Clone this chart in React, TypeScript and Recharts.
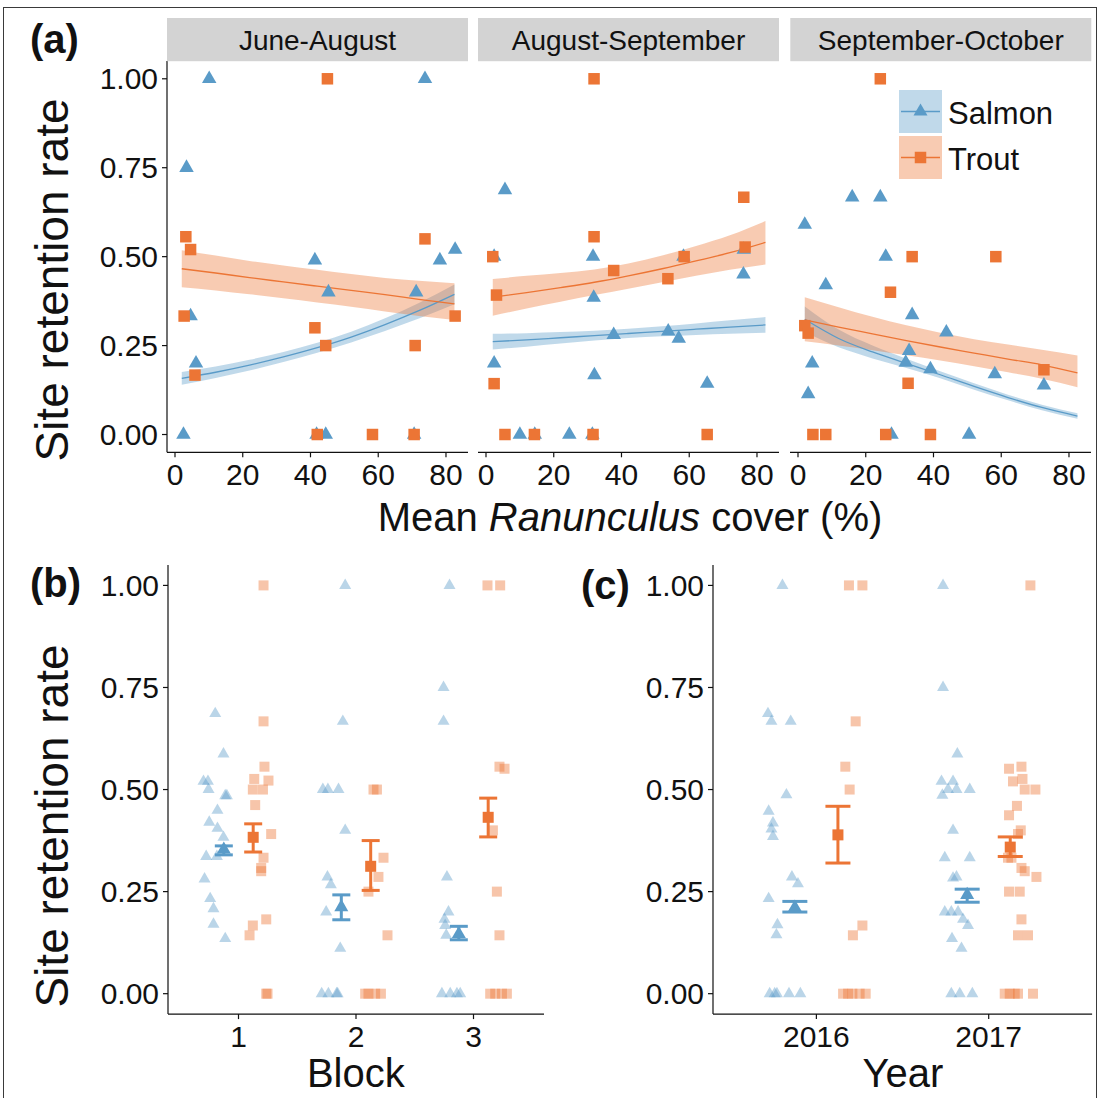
import React from 'react';
import { ComposedChart, Scatter, Line, Area, XAxis, YAxis, ErrorBar } from 'recharts';

const FONT = '"Liberation Sans", Arial, Helvetica, sans-serif';
const BLUE = '#5A9BC8';
const ORANGE = '#EC7535';
const INK = '#111111';

// ---- axis ticks ----
const seasons = ['June-August', 'August-September', 'September-October'];
const coverTicks = [0, 20, 40, 60, 80];
const coverTickLabels = ['0', '20', '40', '60', '80'];
const rateTicks = [0, 0.25, 0.5, 0.75, 1];
const rateTickLabels = ['0.00', '0.25', '0.50', '0.75', '1.00'];
const blockTicks = [1, 2, 3];
const blockTickLabels = ['1', '2', '3'];
const yearTicks = [2016, 2017];
const yearTickLabels = ['2016', '2017'];

// ---- (a) site retention vs mean Ranunculus cover: [cover %, rate] ----
const salmonJunAug: [number, number][] = [
  [10.1, 1], [73.8, 1], [3.4, 0.75], [41.3, 0.49], [45.3, 0.4], [71.2, 0.4], [78.2, 0.49],
  [82.7, 0.52], [4.6, 0.333], [6.2, 0.2], [2.5, 0], [41.8, 0], [44.5, 0], [70.6, 0],
];
const troutJunAug: [number, number][] = [
  [45, 1], [3.2, 0.556], [4.6, 0.52], [73.8, 0.55], [2.7, 0.333], [82.7, 0.333], [41.3, 0.3],
  [44.5, 0.25], [70.9, 0.25], [5.9, 0.167], [42, 0], [58.3, 0], [70.6, 0],
];
const salmonAugSep: [number, number][] = [
  [5.6, 0.6875], [2.4, 0.5], [31.6, 0.5], [76.1, 0.52], [58.3, 0.5], [76, 0.45], [31.8, 0.385],
  [37.7, 0.28], [53.8, 0.29], [56.9, 0.27], [2.4, 0.2], [32, 0.167], [65.3, 0.143],
  [10, 0], [14.4, 0], [24.6, 0], [31.4, 0],
];
const troutAugSep: [number, number][] = [
  [31.9, 1], [76.1, 0.667], [31.9, 0.556], [2, 0.5], [76.5, 0.527], [58.5, 0.5], [37.7, 0.461],
  [53.7, 0.438], [3.1, 0.392], [2.4, 0.143], [5.6, 0], [14.3, 0], [31.6, 0], [65.3, 0],
];
const salmonSepOct: [number, number][] = [
  [16, 0.667], [24.3, 0.667], [2, 0.59], [25.9, 0.5], [8.2, 0.42], [33.7, 0.336], [43.8, 0.287],
  [32.8, 0.235], [31.8, 0.202], [39.1, 0.184], [4.2, 0.2], [58.1, 0.17], [72.6, 0.138],
  [3, 0.114], [27.6, 0], [50.5, 0],
];
const troutSepOct: [number, number][] = [
  [24.3, 1], [33.7, 0.5], [58.4, 0.5], [27.3, 0.4], [2, 0.306], [3, 0.285], [32.5, 0.144],
  [72.6, 0.182], [4.4, 0], [8.2, 0], [25.9, 0], [39.1, 0],
];

// fitted retention and confidence band along cover
const fitCover = [2, 12, 22, 32, 42, 52, 62, 72, 82.5];

const salmonFitJunAug = [0.158, 0.175, 0.195, 0.218, 0.244, 0.274, 0.309, 0.348, 0.394];
const salmonLowJunAug = [0.14, 0.159, 0.18, 0.204, 0.23, 0.259, 0.291, 0.326, 0.366];
const salmonHighJunAug = [0.176, 0.191, 0.21, 0.232, 0.258, 0.289, 0.327, 0.37, 0.422];
const troutFitJunAug = [0.466, 0.454, 0.441, 0.429, 0.417, 0.405, 0.393, 0.38, 0.367];
const troutLowJunAug = [0.414, 0.405, 0.394, 0.383, 0.371, 0.359, 0.346, 0.333, 0.322];
const troutHighJunAug = [0.518, 0.503, 0.488, 0.475, 0.463, 0.451, 0.44, 0.432, 0.425];

const salmonFitAugSep = [0.261, 0.266, 0.272, 0.278, 0.284, 0.29, 0.296, 0.302, 0.308];
const salmonLowAugSep = [0.239, 0.247, 0.256, 0.264, 0.271, 0.276, 0.28, 0.283, 0.286];
const salmonHighAugSep = [0.283, 0.285, 0.288, 0.292, 0.297, 0.304, 0.312, 0.321, 0.33];
const troutFitAugSep = [0.386, 0.399, 0.413, 0.428, 0.446, 0.466, 0.488, 0.511, 0.54];
const troutLowAugSep = [0.334, 0.354, 0.373, 0.392, 0.41, 0.428, 0.446, 0.463, 0.478];
const troutHighAugSep = [0.437, 0.446, 0.454, 0.464, 0.481, 0.503, 0.53, 0.56, 0.6];

const salmonFitSepOct = [0.324, 0.27, 0.232, 0.2, 0.168, 0.135, 0.104, 0.076, 0.052];
const salmonLowSepOct = [0.288, 0.245, 0.214, 0.187, 0.158, 0.126, 0.096, 0.068, 0.044];
const salmonHighSepOct = [0.36, 0.295, 0.25, 0.213, 0.178, 0.144, 0.112, 0.084, 0.06];
const troutFitSepOct = [0.322, 0.302, 0.283, 0.264, 0.246, 0.229, 0.212, 0.196, 0.173];
const troutLowSepOct = [0.262, 0.25, 0.237, 0.223, 0.208, 0.192, 0.175, 0.157, 0.133];
const troutHighSepOct = [0.386, 0.358, 0.331, 0.307, 0.286, 0.268, 0.253, 0.238, 0.222];

// ---- (b) retention by block: [jittered block position, rate] ----
const blockSalmon: [number, number][] = [
  [0.802, 0.686], [0.872, 0.587], [0.702, 0.52], [0.74, 0.52], [0.745, 0.5], [0.887, 0.485],
  [0.901, 0.485], [0.821, 0.449], [0.751, 0.42], [0.821, 0.405], [0.872, 0.383], [0.725, 0.336],
  [0.816, 0.336], [0.711, 0.281], [0.759, 0.233], [0.787, 0.208], [0.787, 0.17], [0.887, 0.135],
  [1.908, 1], [1.888, 0.667], [1.718, 0.5], [1.761, 0.5], [1.851, 0.5], [1.908, 0.4],
  [1.757, 0.286], [1.786, 0.267], [1.746, 0.2], [1.866, 0.111], [1.708, 0], [1.765, 0],
  [1.844, 0], [1.835, 0],
  [2.796, 1], [2.745, 0.75], [2.745, 0.667], [2.774, 0.286], [2.787, 0.2], [2.753, 0.182],
  [2.759, 0.167], [2.768, 0.143], [2.731, 0], [2.802, 0], [2.859, 0], [2.887, 0],
];
const blockTrout: [number, number][] = [
  [1.213, 1], [1.213, 0.667], [1.221, 0.556], [1.134, 0.526], [1.255, 0.522], [1.122, 0.5],
  [1.208, 0.5], [1.142, 0.462], [1.278, 0.391], [1.213, 0.333], [1.193, 0.308], [1.193, 0.3],
  [1.236, 0.182], [1.122, 0.167], [1.094, 0.143], [1.236, 0], [1.247, 0],
  [2.149, 0.5], [2.178, 0.5], [2.234, 0.333], [2.191, 0.286], [2.106, 0.25], [2.268, 0.143],
  [2.078, 0], [2.106, 0], [2.163, 0], [2.212, 0],
  [3.119, 1], [3.227, 1], [3.221, 0.556], [3.264, 0.551], [3.165, 0.4], [3.199, 0.25],
  [3.221, 0.143], [3.142, 0], [3.185, 0], [3.242, 0], [3.284, 0],
];
const blockSalmonMean = [0.353, 0.212, 0.146];
const blockSalmonLow = [0.34, 0.181, 0.132];
const blockSalmonHigh = [0.362, 0.242, 0.165];
const blockTroutMean = [0.383, 0.312, 0.432];
const blockTroutLow = [0.347, 0.253, 0.384];
const blockTroutHigh = [0.416, 0.375, 0.479];

// ---- (c) retention by year: [jittered year position, rate] ----
const yearSalmon: [number, number][] = [
  [2015.803, 1], [2015.719, 0.686], [2015.739, 0.667], [2015.851, 0.667], [2015.826, 0.487],
  [2015.723, 0.447], [2015.748, 0.418], [2015.739, 0.403], [2015.748, 0.385], [2015.858, 0.286],
  [2015.893, 0.269], [2015.723, 0.233], [2015.774, 0.169], [2015.768, 0.144], [2015.729, 0],
  [2015.758, 0], [2015.771, 0], [2015.841, 0], [2015.907, 0],
  [2016.735, 1], [2016.735, 0.75], [2016.818, 0.587], [2016.726, 0.52], [2016.793, 0.52],
  [2016.764, 0.5], [2016.813, 0.5], [2016.89, 0.5], [2016.731, 0.486], [2016.793, 0.4],
  [2016.745, 0.333], [2016.89, 0.333], [2016.793, 0.283], [2016.813, 0.286], [2016.745, 0.2],
  [2016.783, 0.2], [2016.822, 0.2], [2016.851, 0.182], [2016.88, 0.167], [2016.787, 0.135],
  [2016.842, 0.111], [2016.783, 0], [2016.832, 0], [2016.905, 0],
];
const yearTrout: [number, number][] = [
  [2016.189, 1], [2016.267, 1], [2016.228, 0.667], [2016.168, 0.556], [2016.193, 0.5],
  [2016.267, 0.167], [2016.212, 0.143], [2016.155, 0], [2016.184, 0], [2016.209, 0],
  [2016.251, 0], [2016.286, 0],
  [2017.242, 1], [2017.118, 0.551], [2017.19, 0.556], [2017.141, 0.52], [2017.196, 0.526],
  [2017.209, 0.5], [2017.271, 0.5], [2017.164, 0.46], [2017.118, 0.437], [2017.186, 0.4],
  [2017.17, 0.391], [2017.112, 0.333], [2017.132, 0.333], [2017.19, 0.308], [2017.209, 0.3],
  [2017.277, 0.286], [2017.118, 0.25], [2017.18, 0.25], [2017.19, 0.182], [2017.17, 0.143],
  [2017.228, 0.143], [2017.093, 0], [2017.122, 0], [2017.151, 0], [2017.17, 0], [2017.257, 0],
];
const yearSalmonMean = [0.211, 0.242];
const yearSalmonLow = [0.2, 0.224];
const yearSalmonHigh = [0.226, 0.256];
const yearTroutMean = [0.389, 0.359];
const yearTroutLow = [0.32, 0.336];
const yearTroutHigh = [0.459, 0.384];

// species means are dodged either side of each category
const DODGE = 0.125;

// ---------------------------------------------------------------------------
type Rect = { x0: number; x1: number; y0: number; y1: number };
const PAD = 14;

const toPoints = (arr: [number, number][]) => arr.map(([x, y]) => ({ x, y }));

const meanRows = (cats: number[], offset: number, mean: number[], lo: number[], hi: number[]) =>
  cats.map((c, i) => ({ x: c + offset, y: mean[i], err: [mean[i] - lo[i], hi[i] - mean[i]] }));

const fitRows = (sFit: number[], sLo: number[], sHi: number[], tFit: number[], tLo: number[], tHi: number[]) =>
  fitCover.map((x, i) => ({
    x,
    sFit: sFit[i],
    sBand: [sLo[i], sHi[i]],
    tFit: tFit[i],
    tBand: [tLo[i], tHi[i]],
  }));

const triangle = (w: number, color: string, alpha: number) => (p: any) => {
  const { cx, cy } = p;
  if (typeof cx !== 'number' || typeof cy !== 'number' || isNaN(cx) || isNaN(cy)) return <g />;
  const hx = w / 2;
  const r = (hx * 1.5551) / 1.3468;
  return (
    <polygon
      points={`${cx},${cy - r} ${cx + hx},${cy + r / 2} ${cx - hx},${cy + r / 2}`}
      fill={color}
      fillOpacity={alpha}
    />
  );
};

const square = (s: number, color: string, alpha: number) => (p: any) => {
  const { cx, cy } = p;
  if (typeof cx !== 'number' || typeof cy !== 'number' || isNaN(cx) || isNaN(cy)) return <g />;
  return <rect x={cx - s / 2} y={cy - s / 2} width={s} height={s} fill={color} fillOpacity={alpha} />;
};

const tickStyle = { fill: INK, fontSize: 30, fontFamily: FONT };
const axisLineStyle = { stroke: INK, strokeWidth: 1.2 };

function Plot({ rect, yw, xh, data, children }: { rect: Rect; yw: number; xh: number; data?: any[]; children: React.ReactNode }) {
  const width = rect.x1 - rect.x0 + yw + 2 * PAD;
  const height = rect.y1 - rect.y0 + xh + 2 * PAD;
  return (
    <div style={{ position: 'absolute', left: rect.x0 - yw - PAD, top: rect.y0 - PAD, width, height }}>
      <ComposedChart width={width} height={height} data={data} margin={{ top: PAD, right: PAD, bottom: PAD, left: PAD }}>
        {children}
      </ComposedChart>
    </div>
  );
}

const xAxisEl = (domain: [number, number], ticks: number[], labels: string[], xh: number) => (
  <XAxis
    type="number"
    dataKey="x"
    domain={domain}
    ticks={ticks}
    interval={0}
    allowDataOverflow
    tickFormatter={(v: number) => labels[ticks.indexOf(v)]}
    height={xh}
    tickSize={5}
    tickMargin={6.5}
    axisLine={axisLineStyle}
    tickLine={axisLineStyle}
    tick={tickStyle}
  />
);

const yAxisEl = (yw: number, show: boolean) => (
  <YAxis
    type="number"
    dataKey="y"
    domain={[-0.05, 1.05]}
    ticks={rateTicks}
    interval={0}
    allowDataOverflow
    tickFormatter={(v: number) => rateTickLabels[rateTicks.indexOf(v)]}
    width={yw}
    hide={!show}
    tickSize={5}
    tickMargin={4}
    axisLine={axisLineStyle}
    tickLine={axisLineStyle}
    tick={tickStyle}
  />
);

// ---- panel geometry ----
const facetRects: Rect[] = [
  { x0: 167, x1: 468, y0: 61.2, y1: 452.5 },
  { x0: 478, x1: 779, y0: 61.2, y1: 452.5 },
  { x0: 790.3, x1: 1091.3, y0: 61.2, y1: 452.5 },
];
const blockRect: Rect = { x0: 167.8, x1: 543.8, y0: 565.3, y1: 1014.4 };
const yearRect: Rect = { x0: 713.3, x1: 1092.4, y0: 565.3, y1: 1014.4 };

const facets = [
  {
    salmon: salmonJunAug,
    trout: troutJunAug,
    fit: fitRows(salmonFitJunAug, salmonLowJunAug, salmonHighJunAug, troutFitJunAug, troutLowJunAug, troutHighJunAug),
  },
  {
    salmon: salmonAugSep,
    trout: troutAugSep,
    fit: fitRows(salmonFitAugSep, salmonLowAugSep, salmonHighAugSep, troutFitAugSep, troutLowAugSep, troutHighAugSep),
  },
  {
    salmon: salmonSepOct,
    trout: troutSepOct,
    fit: fitRows(salmonFitSepOct, salmonLowSepOct, salmonHighSepOct, troutFitSepOct, troutLowSepOct, troutHighSepOct),
  },
];

function CoverFacet({ index }: { index: number }) {
  const f = facets[index];
  const yw = index === 0 ? 77 : 0;
  const xh = 45;
  return (
    <Plot rect={facetRects[index]} yw={yw} xh={xh} data={f.fit}>
      {xAxisEl([-2.36, 86.5], coverTicks, coverTickLabels, xh)}
      {yAxisEl(yw, index === 0)}
      <Area dataKey="sBand" type="monotone" stroke="none" fill={BLUE} fillOpacity={0.38} isAnimationActive={false} activeDot={false} />
      <Area dataKey="tBand" type="monotone" stroke="none" fill={ORANGE} fillOpacity={0.38} isAnimationActive={false} activeDot={false} />
      <Line dataKey="sFit" type="monotone" stroke={BLUE} strokeWidth={1.3} dot={false} activeDot={false} isAnimationActive={false} />
      <Line dataKey="tFit" type="monotone" stroke={ORANGE} strokeWidth={1.3} dot={false} activeDot={false} isAnimationActive={false} />
      <Scatter data={toPoints(f.salmon)} shape={triangle(14.5, BLUE, 1)} isAnimationActive={false} />
      <Scatter data={toPoints(f.trout)} shape={square(11.5, ORANGE, 1)} isAnimationActive={false} />
    </Plot>
  );
}

function GroupPanel({
  rect, cats, domain, labels, salmon, trout, sMean, sLo, sHi, tMean, tLo, tHi, cap,
}: {
  rect: Rect; cats: number[]; domain: [number, number]; labels: string[];
  salmon: [number, number][]; trout: [number, number][];
  sMean: number[]; sLo: number[]; sHi: number[]; tMean: number[]; tLo: number[]; tHi: number[]; cap: number;
}) {
  const yw = 80;
  const xh = 45;
  return (
    <Plot rect={rect} yw={yw} xh={xh}>
      {xAxisEl(domain, cats, labels, xh)}
      {yAxisEl(yw, true)}
      <Scatter data={toPoints(salmon)} shape={triangle(12, BLUE, 0.42)} isAnimationActive={false} />
      <Scatter data={toPoints(trout)} shape={square(10, ORANGE, 0.42)} isAnimationActive={false} />
      <Scatter data={meanRows(cats, -DODGE, sMean, sLo, sHi)} shape={triangle(14, BLUE, 1)} isAnimationActive={false}>
        <ErrorBar dataKey="err" direction="y" width={cap} stroke={BLUE} strokeWidth={3} isAnimationActive={false} />
      </Scatter>
      <Scatter data={meanRows(cats, DODGE, tMean, tLo, tHi)} shape={square(11, ORANGE, 1)} isAnimationActive={false}>
        <ErrorBar dataKey="err" direction="y" width={cap} stroke={ORANGE} strokeWidth={3} isAnimationActive={false} />
      </Scatter>
    </Plot>
  );
}

function Overlay() {
  const stripY0 = 18;
  const stripY1 = 61.2;
  return (
    <svg width={1100} height={1098} style={{ position: 'absolute', left: 0, top: 0, pointerEvents: 'none' }} fontFamily={FONT}>
      <rect x={3.5} y={7.5} width={1093} height={1095} fill="none" stroke="#3a3a3a" strokeWidth={1} />
      {facetRects.map((r, i) => (
        <g key={seasons[i]}>
          <rect x={r.x0} y={stripY0} width={r.x1 - r.x0} height={stripY1 - stripY0} fill="#D3D3D3" />
          <text x={(r.x0 + r.x1) / 2} y={50} textAnchor="middle" fontSize={28} fill={INK}>
            {seasons[i]}
          </text>
        </g>
      ))}
      <text x={30} y={53} fontSize={40} fontWeight="bold" fill={INK}>(a)</text>
      <text x={30} y={597} fontSize={40} fontWeight="bold" fill={INK}>(b)</text>
      <text x={581} y={599} fontSize={40} fontWeight="bold" fill={INK}>(c)</text>

      <text transform="translate(68,280) rotate(-90)" textAnchor="middle" fontSize={46} fill={INK}>Site retention rate</text>
      <text transform="translate(68,826) rotate(-90)" textAnchor="middle" fontSize={46} fill={INK}>Site retention rate</text>

      <text x={630} y={531} textAnchor="middle" fontSize={40} fill={INK}>
        Mean <tspan fontStyle="italic">Ranunculus</tspan> cover (%)
      </text>
      <text x={(blockRect.x0 + blockRect.x1) / 2} y={1087} textAnchor="middle" fontSize={40} fill={INK}>Block</text>
      <text x={(yearRect.x0 + yearRect.x1) / 2} y={1087} textAnchor="middle" fontSize={40} fill={INK}>Year</text>

      {/* species legend */}
      <rect x={899} y={90} width={43} height={43} fill={BLUE} fillOpacity={0.38} />
      <line x1={901} x2={940} y1={111.5} y2={111.5} stroke={BLUE} strokeWidth={1.4} />
      {triangle(14, BLUE, 1)({ cx: 920.5, cy: 111.5 })}
      <rect x={899} y={136} width={43} height={43} fill={ORANGE} fillOpacity={0.38} />
      <line x1={901} x2={940} y1={157.5} y2={157.5} stroke={ORANGE} strokeWidth={1.4} />
      {square(11.5, ORANGE, 1)({ cx: 920.5, cy: 157.5 })}
      <text x={948} y={124} fontSize={31} fill={INK}>Salmon</text>
      <text x={948} y={170} fontSize={31} fill={INK}>Trout</text>
    </svg>
  );
}

export default function App() {
  return (
    <div style={{ position: 'absolute', left: 0, top: 0, width: 1100, height: 1098, background: '#fff', fontFamily: FONT }}>
      <CoverFacet index={0} />
      <CoverFacet index={1} />
      <CoverFacet index={2} />
      <GroupPanel
        rect={blockRect}
        cats={blockTicks}
        domain={[0.4, 3.6]}
        labels={blockTickLabels}
        salmon={blockSalmon}
        trout={blockTrout}
        sMean={blockSalmonMean}
        sLo={blockSalmonLow}
        sHi={blockSalmonHigh}
        tMean={blockTroutMean}
        tLo={blockTroutLow}
        tHi={blockTroutHigh}
        cap={9}
      />
      <GroupPanel
        rect={yearRect}
        cats={yearTicks}
        domain={[2015.4, 2017.6]}
        labels={yearTickLabels}
        salmon={yearSalmon}
        trout={yearTrout}
        sMean={yearSalmonMean}
        sLo={yearSalmonLow}
        sHi={yearSalmonHigh}
        tMean={yearTroutMean}
        tLo={yearTroutLow}
        tHi={yearTroutHigh}
        cap={12.5}
      />
      <Overlay />
    </div>
  );
}
